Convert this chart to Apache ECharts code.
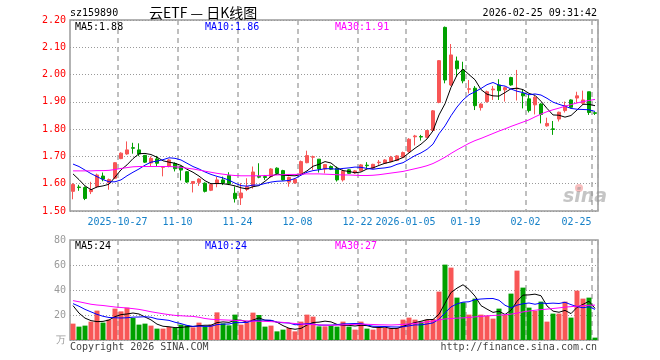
<!DOCTYPE html>
<html><head><meta charset="utf-8">
<script src="https://cdn.jsdelivr.net/npm/echarts@6/dist/echarts.min.js"></script>
<style>html,body{margin:0;padding:0;background:#fff}#c{width:660px;height:360px}</style>
</head><body><div id="c"></div><script>
const dates = ['2025-10-15','2025-10-16','2025-10-17','2025-10-20','2025-10-21','2025-10-22','2025-10-23','2025-10-24','2025-10-27','2025-10-28',
'2025-10-29','2025-10-30','2025-10-31','2025-11-03','2025-11-04','2025-11-05','2025-11-06','2025-11-07','2025-11-10','2025-11-11',
'2025-11-12','2025-11-13','2025-11-14','2025-11-17','2025-11-18','2025-11-19','2025-11-20','2025-11-21','2025-11-24','2025-11-25',
'2025-11-26','2025-11-27','2025-11-28','2025-12-01','2025-12-02','2025-12-03','2025-12-04','2025-12-05','2025-12-08','2025-12-09',
'2025-12-10','2025-12-11','2025-12-12','2025-12-15','2025-12-16','2025-12-17','2025-12-18','2025-12-19','2025-12-22','2025-12-23',
'2025-12-24','2025-12-25','2025-12-26','2025-12-29','2025-12-30','2025-12-31','2026-01-05','2026-01-06','2026-01-07','2026-01-08',
'2026-01-09','2026-01-12','2026-01-13','2026-01-14','2026-01-15','2026-01-16','2026-01-19','2026-01-20','2026-01-21','2026-01-22',
'2026-01-23','2026-01-26','2026-01-27','2026-01-28','2026-01-29','2026-01-30','2026-02-02','2026-02-03','2026-02-04','2026-02-05',
'2026-02-06','2026-02-09','2026-02-10','2026-02-11','2026-02-12','2026-02-13','2026-02-24','2026-02-25'];

const opens = [1.572,1.588,1.586,1.571,1.590,1.628,1.603,1.620,1.692,1.709,
1.732,1.724,1.704,1.676,1.691,1.660,1.663,1.674,1.663,1.644,
1.601,1.605,1.602,1.576,1.600,1.614,1.630,1.565,1.548,1.579,
1.591,1.627,1.626,1.626,1.657,1.648,1.606,1.603,1.638,1.677,
1.697,1.690,1.654,1.663,1.657,1.614,1.651,1.640,1.648,1.668,
1.657,1.677,1.675,1.681,1.685,1.697,1.718,1.772,1.773,1.770,
1.795,1.898,2.173,1.962,2.050,2.017,1.946,1.950,1.879,1.901,
1.944,1.962,1.944,1.989,1.948,1.931,1.911,1.889,1.892,1.812,
1.801,1.837,1.868,1.907,1.914,1.895,1.937,1.860];
const closes = [1.597,1.586,1.546,1.578,1.632,1.617,1.615,1.677,1.712,1.724,
1.730,1.709,1.679,1.693,1.675,1.663,1.687,1.655,1.650,1.606,
1.608,1.617,1.572,1.597,1.614,1.603,1.600,1.545,1.566,1.589,
1.643,1.624,1.623,1.654,1.638,1.614,1.623,1.616,1.681,1.703,
1.699,1.654,1.670,1.653,1.614,1.646,1.638,1.647,1.669,1.666,
1.671,1.679,1.687,1.697,1.702,1.714,1.763,1.775,1.771,1.795,
1.867,2.051,1.980,2.072,2.021,1.977,1.948,1.886,1.892,1.937,
1.947,1.941,1.952,1.962,1.950,1.922,1.868,1.917,1.854,1.821,
1.799,1.862,1.886,1.880,1.922,1.907,1.861,1.858];
const lows = [1.543,1.574,1.540,1.562,1.585,1.609,1.578,1.617,1.690,1.706,
1.710,1.701,1.676,1.663,1.664,1.627,1.660,1.645,1.612,1.603,
1.568,1.592,1.568,1.573,1.587,1.595,1.595,1.531,1.522,1.573,
1.582,1.620,1.614,1.623,1.632,1.611,1.589,1.600,1.636,1.675,
1.651,1.641,1.638,1.650,1.608,1.608,1.636,1.636,1.645,1.657,
1.655,1.669,1.673,1.679,1.683,1.695,1.714,1.740,1.758,1.767,
1.791,1.895,1.968,1.958,1.992,1.968,1.931,1.870,1.868,1.897,
1.907,1.907,1.901,1.959,1.905,1.876,1.861,1.854,1.821,1.809,
1.779,1.828,1.861,1.876,1.895,1.889,1.852,1.852];
const highs = [1.602,1.596,1.590,1.607,1.637,1.641,1.619,1.679,1.715,1.755,
1.750,1.748,1.705,1.700,1.702,1.664,1.690,1.678,1.666,1.646,
1.609,1.620,1.605,1.600,1.625,1.626,1.642,1.590,1.602,1.620,
1.663,1.675,1.632,1.657,1.660,1.651,1.626,1.620,1.685,1.721,
1.703,1.690,1.672,1.667,1.663,1.652,1.653,1.650,1.672,1.679,
1.673,1.687,1.690,1.702,1.705,1.718,1.767,1.779,1.779,1.797,
1.870,2.053,2.176,2.112,2.066,2.047,1.980,1.958,1.895,1.941,
1.958,1.983,1.956,1.992,2.017,1.944,1.925,1.922,1.895,1.842,
1.830,1.864,1.901,1.909,1.937,1.941,1.937,1.864];

const volumes = [13.1,10.7,11.5,14.7,23.5,13.9,16.3,25.1,22.9,25.9,
17.6,12.3,13.1,11.5,9.1,9.1,10.4,9.6,12.3,11.7,
10.1,13.9,10.9,12.3,22.1,13.3,11.7,20.3,12.3,13.9,
21.9,20.0,10.7,11.5,6.9,8.3,9.6,6.9,14.7,20.3,
18.7,10.9,10.9,11.5,10.7,14.7,10.7,8.3,14.7,9.1,
8.3,9.6,9.6,9.6,9.6,16.3,17.9,16.3,14.7,16.3,
16.8,38.7,60.3,57.9,33.9,30.1,20.3,33.1,20.3,19.5,
17.1,25.1,20.0,37.1,55.5,41.9,25.9,23.2,30.7,14.7,
21.1,21.1,30.7,17.9,39.5,33.1,33.9,1.9];

const ma5 = [1.636,1.615,1.592,1.578,1.588,1.592,1.598,1.624,1.651,1.669,
1.692,1.710,1.711,1.707,1.697,1.684,1.679,1.675,1.667,1.653,
1.642,1.628,1.611,1.600,1.601,1.600,1.597,1.592,1.585,1.581,
1.589,1.593,1.609,1.627,1.636,1.631,1.630,1.629,1.634,1.647,
1.664,1.671,1.681,1.676,1.658,1.648,1.645,1.640,1.643,1.654,
1.658,1.667,1.675,1.680,1.687,1.696,1.713,1.730,1.745,1.764,
1.794,1.852,1.893,1.953,1.998,2.020,2.000,1.981,1.945,1.928,
1.922,1.921,1.934,1.948,1.950,1.945,1.931,1.924,1.902,1.876,
1.852,1.851,1.844,1.850,1.870,1.891,1.891,1.886];
const ma10 = [1.672,1.663,1.650,1.637,1.626,1.615,1.607,1.607,1.614,1.629,
1.642,1.654,1.668,1.679,1.683,1.688,1.695,1.693,1.687,1.675,
1.663,1.654,1.643,1.634,1.627,1.621,1.613,1.602,1.593,1.591,
1.595,1.595,1.601,1.606,1.609,1.610,1.612,1.619,1.631,1.642,
1.648,1.651,1.655,1.655,1.653,1.656,1.658,1.661,1.660,1.656,
1.653,1.656,1.658,1.662,1.671,1.677,1.690,1.703,1.713,1.726,
1.745,1.783,1.812,1.849,1.881,1.907,1.926,1.937,1.949,1.963,
1.971,1.961,1.958,1.947,1.939,1.934,1.926,1.929,1.925,1.913,
1.899,1.891,1.884,1.876,1.873,1.872,1.871,1.865];
const ma30 = [1.647,1.647,1.647,1.647,1.648,1.648,1.649,1.652,1.656,1.659,
1.662,1.663,1.663,1.663,1.663,1.663,1.663,1.662,1.660,1.657,
1.654,1.650,1.646,1.642,1.638,1.635,1.632,1.630,1.629,1.629,
1.629,1.629,1.630,1.631,1.632,1.633,1.634,1.634,1.635,1.636,
1.636,1.636,1.635,1.634,1.633,1.632,1.632,1.631,1.630,1.630,
1.631,1.633,1.636,1.639,1.642,1.645,1.650,1.655,1.660,1.666,
1.674,1.685,1.697,1.711,1.724,1.736,1.748,1.758,1.766,1.775,
1.784,1.793,1.801,1.810,1.818,1.826,1.834,1.845,1.855,1.864,
1.871,1.877,1.884,1.890,1.896,1.901,1.905,1.909];

const vma5 = [27.5,21.5,17.5,15.5,14.7,14.9,16.0,18.7,20.3,20.8,
21.6,20.8,18.4,16.1,12.7,11.0,10.6,9.9,10.1,10.6,
10.8,11.5,11.8,11.8,13.9,14.5,14.1,15.9,15.9,14.3,
16.0,17.7,15.8,15.6,14.2,11.5,9.4,8.6,9.3,12.0,
14.0,14.3,15.1,14.5,12.5,11.7,11.7,11.2,11.8,11.5,
10.2,10.0,10.3,9.2,9.3,10.9,12.6,13.9,15.0,16.3,
16.4,20.6,29.4,38.0,41.5,44.2,40.5,35.1,27.5,24.7,
22.1,23.0,20.4,23.8,31.0,35.9,36.1,36.7,35.4,27.3,
23.1,22.2,23.7,21.1,26.1,28.5,31.0,25.3];
const vma10 = [29.1,27.0,24.5,22.5,20.5,19.0,18.0,17.8,17.6,17.8,
18.3,18.4,18.6,18.2,16.8,16.3,15.7,14.2,13.1,11.7,
10.9,11.1,10.9,11.0,12.3,12.7,12.8,13.9,13.9,14.1,
15.3,15.9,15.9,15.8,14.3,13.8,13.6,12.2,12.5,13.1,
12.8,11.9,11.9,11.9,12.3,12.9,13.0,13.2,13.2,12.0,
11.0,10.9,10.8,10.5,10.4,10.6,11.3,12.1,12.1,12.8,
13.7,16.6,21.7,26.5,28.9,30.3,30.6,32.3,32.8,33.1,
33.2,31.8,27.8,25.7,27.9,29.0,29.6,28.6,29.6,29.2,
29.5,29.2,30.2,28.3,26.7,25.8,26.6,24.5];
const vma30 = [31.5,30.6,29.6,28.6,28.0,27.6,27.0,26.4,26.0,25.6,
25.1,24.5,23.6,22.6,21.8,21.0,20.3,19.7,19.4,19.1,
18.9,18.2,17.2,16.6,16.3,16.1,15.9,15.7,15.5,15.3,
15.1,15.0,14.9,14.7,14.4,14.1,13.6,13.2,12.8,12.6,
12.3,12.1,11.9,11.8,11.9,12.1,12.3,12.5,12.7,12.6,
12.4,12.2,12.1,12.0,12.2,12.5,12.8,13.3,13.8,14.5,
15.2,16.0,16.8,17.2,17.5,17.7,18.0,18.5,18.9,19.3,
19.6,19.9,20.2,20.7,21.5,22.5,23.2,23.8,24.3,24.7,
25.2,25.7,26.3,26.7,27.1,27.5,27.8,27.9];

const tickIdx = [8,18,28,38,48,56,66,76,87];
const tickText = ['2025-10-27','11-10','11-24','12-08','12-22','2026-01-05','01-19','02-02','02-25'];

const RED = '#f85656', GREEN = '#00a000';
const MONO = '"DejaVu Sans Mono", "Liberation Mono", monospace';
const candles = dates.map((d, i) => [opens[i], closes[i], lows[i], highs[i]]);

const chart = echarts.init(document.getElementById('c'), null, {renderer: 'canvas'});
const isTick = (idx) => tickIdx.indexOf(idx) >= 0;
const vSplit = {show: true, interval: (idx) => isTick(idx), lineStyle: {type: [5, 4], color: '#aaa', width: 1.5}};
const hSplit = {show: true, lineStyle: {type: [1, 2], color: '#999', width: 1}};

function txt(x, y, s, color, align, font) {
  return {type: 'text', x: x, y: y, z: 100, silent: true,
    style: {text: s, fill: color, align: align || 'left', verticalAlign: 'middle', font: font || ('10px ' + MONO)}};
}

const option = {
  animation: false,
  backgroundColor: '#fff',
  grid: [
    {left: 70, top: 20, width: 528, height: 191, show: true, borderColor: '#9a9a9a', borderWidth: 1.5, backgroundColor: 'transparent'},
    {left: 70, top: 240, width: 528, height: 100, show: true, borderColor: '#9a9a9a', borderWidth: 1.5, backgroundColor: 'transparent'}
  ],
  xAxis: [
    {type: 'category', gridIndex: 0, data: dates, boundaryGap: true,
     axisLine: {show: false}, axisTick: {show: false},
     axisLabel: {interval: (idx) => isTick(idx), margin: 6, color: '#1681c8', fontFamily: MONO, fontSize: 10,
       formatter: (v, idx) => { const k = tickIdx.indexOf(idx); if (k < 0) return ''; return (k === tickIdx.length - 1 ? '{b|' : '{a|') + tickText[k] + '}'; },
       rich: {a: {padding: [0, 7, 0, 0], color: '#1681c8', fontFamily: MONO, fontSize: 10},
              b: {padding: [0, 37, 0, 0], color: '#1681c8', fontFamily: MONO, fontSize: 10}}},
     splitLine: vSplit},
    {type: 'category', gridIndex: 1, data: dates, boundaryGap: true,
     axisLine: {show: false}, axisTick: {show: false}, axisLabel: {show: false},
     splitLine: vSplit}
  ],
  yAxis: [
    {type: 'value', gridIndex: 0, min: 1.5, max: 2.2, interval: 0.1, scale: true,
     axisLine: {show: false}, axisTick: {show: false},
     axisLabel: {color: '#ff0000', fontFamily: MONO, fontSize: 10, margin: 4, showMinLabel: true, showMaxLabel: true,
       formatter: (v) => v.toFixed(2)},
     splitLine: hSplit},
    {type: 'value', gridIndex: 1, min: 0, max: 80, interval: 20,
     axisLine: {show: false}, axisTick: {show: false},
     axisLabel: {color: '#9a9a9a', fontFamily: MONO, fontSize: 10, margin: 4, showMinLabel: true, showMaxLabel: true,
       formatter: (v) => v === 0 ? '万' : String(v)},
     splitLine: hSplit}
  ],
  series: [
    {type: 'candlestick', name: 'K', xAxisIndex: 0, yAxisIndex: 0, data: candles, barWidth: 4,
     itemStyle: {color: RED, color0: GREEN, borderColor: RED, borderColor0: GREEN, borderWidth: 1}},
    {type: 'line', name: 'MA5', xAxisIndex: 0, yAxisIndex: 0, data: ma5, symbol: 'none', z: 3, lineStyle: {color: '#000', width: 1}},
    {type: 'line', name: 'MA10', xAxisIndex: 0, yAxisIndex: 0, data: ma10, symbol: 'none', z: 3, lineStyle: {color: '#0000ff', width: 1}},
    {type: 'line', name: 'MA30', xAxisIndex: 0, yAxisIndex: 0, data: ma30, symbol: 'none', z: 3, lineStyle: {color: '#ff00ff', width: 1}},
    {type: 'bar', name: 'VOL', xAxisIndex: 1, yAxisIndex: 1, data: volumes, barWidth: 5,
     itemStyle: {color: (p) => closes[p.dataIndex] >= opens[p.dataIndex] ? RED : GREEN}},
    {type: 'line', name: 'VMA5', xAxisIndex: 1, yAxisIndex: 1, data: vma5, symbol: 'none', z: 3, lineStyle: {color: '#000', width: 1}},
    {type: 'line', name: 'VMA10', xAxisIndex: 1, yAxisIndex: 1, data: vma10, symbol: 'none', z: 3, lineStyle: {color: '#0000ff', width: 1}},
    {type: 'line', name: 'VMA30', xAxisIndex: 1, yAxisIndex: 1, data: vma30, symbol: 'none', z: 3, lineStyle: {color: '#ff00ff', width: 1}}
  ],
  graphic: [
    txt(70, 13, 'sz159890', '#000'),
    txt(149, 13, '云ETF — 日K线图', '#000', 'left', '14px "Noto Sans CJK SC"'),
    txt(597, 13, '2026-02-25 09:31:42', '#000', 'right'),
    txt(75, 27, 'MA5:1.88', '#000'),
    txt(205, 27, 'MA10:1.86', '#0000ff'),
    txt(335, 27, 'MA30:1.91', '#ff00ff'),
    txt(75, 246, 'MA5:24', '#000'),
    txt(205, 246, 'MA10:24', '#0000ff'),
    txt(335, 246, 'MA30:27', '#ff00ff'),
    txt(70, 347, 'Copyright 2026 SINA.COM', '#444'),
    txt(597, 347, 'http://finance.sina.com.cn', '#444', 'right'),
    {type: 'circle', z: 90, silent: true, shape: {cx: 579, cy: 188, r: 4}, style: {fill: 'rgba(240,110,110,0.45)'}},
    txt(563, 197, 'sina', 'rgba(150,150,150,0.55)', 'left', 'italic bold 19px "DejaVu Sans"')
  ]
};
chart.setOption(option);
</script></body></html>
